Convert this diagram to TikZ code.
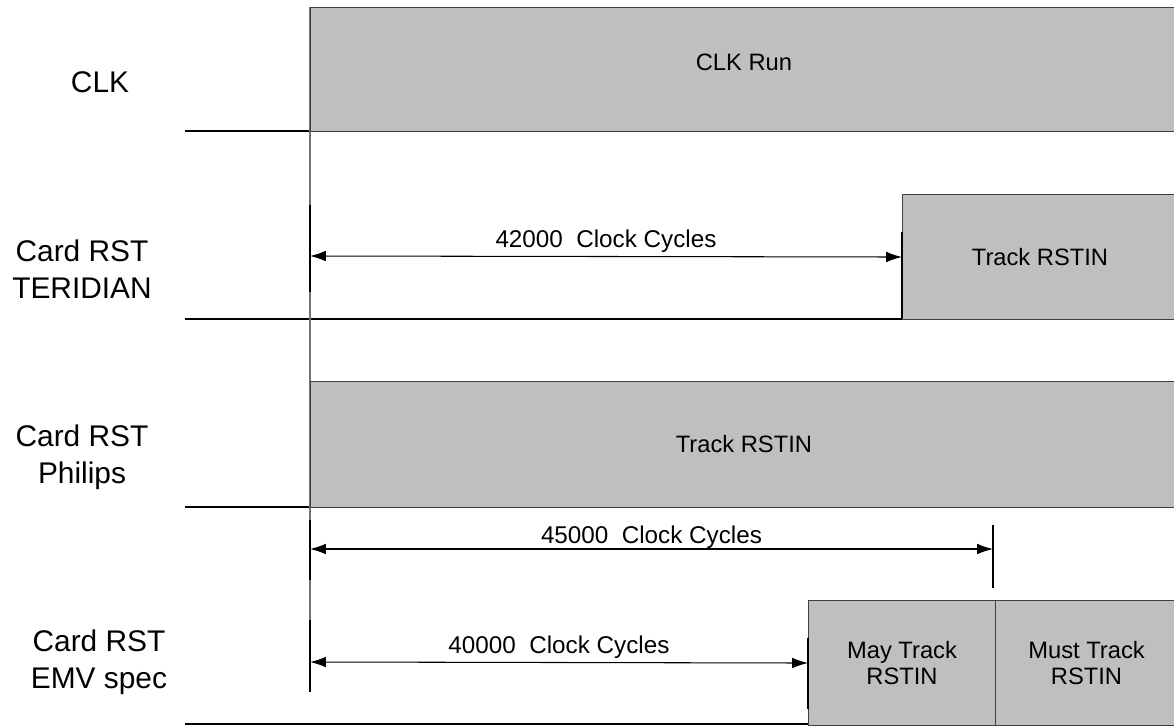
\documentclass[tikz,border=0pt]{standalone}
\usepackage{fontspec}
\setmainfont{Liberation Sans}
\usetikzlibrary{arrows.meta}

\tikzset{
	sig/.style={draw=black!75, fill=black!25, line width=0.6pt, anchor=north west, inner sep=0pt, align=center, font=\fontsize{13.5}{15}\selectfont},
	lane/.style={align=center, font=\fontsize{17}{21}\selectfont},
	dim/.style={{Latex[length=9pt,width=6pt]}-{Latex[length=9pt,width=6pt]}, line width=0.6pt},
	dimtxt/.style={above, inner sep=2pt, font=\fontsize{13.8}{16}\selectfont},
	tick/.style={line width=1.2pt}
}

\begin{document}
\begin{tikzpicture}[x=0.02cm, y=-0.02cm]
	\useasboundingbox (0,0) rectangle (1174,726);
	% lanes
	\draw[black, line width=0.6pt] (185,131) -- (1174,131) (185,319) -- (1174,319) (185,507) -- (1174,507) (185,724) -- (1174,724);
	\draw[black!55, line width=0.8pt] (310,7) -- (310,692);
	\node[lane] (clk) at (100,82) {CLK};
	\node[lane] (teri) at (82,269) {Card RST\\TERIDIAN};
	\node[lane] (phil) at (82,457) {Card RST\\Philips};
	\node[lane] (emv) at (99,662) {Card RST\\EMV spec};
	% signals
	\node[sig, minimum width=17.34cm, minimum height=2.48cm, text depth=0.3cm] (run) at (310,7) {CLK Run};
	\node[sig, minimum width=5.5cm, minimum height=2.5cm] (trk1) at (902,194) {Track RSTIN};
	\node[sig, minimum width=17.34cm, minimum height=2.52cm] (trk2) at (310,381) {Track RSTIN};
	\node[sig, minimum width=3.74cm, minimum height=2.5cm] (may) at (808,600) {May Track\\RSTIN};
	\node[sig, minimum width=3.64cm, minimum height=2.5cm] (must) at (995,600) {Must Track\\RSTIN};
	% timings
	\coordinate (s1) at (310,256);
	\coordinate (s2) at (310,549);
	\coordinate (e2) at (993,549);
	\coordinate (s3) at (310,662);
	\draw[tick] (310,205) -- (310,292) (310,520) -- (310,580) (310,620) -- (310,692);
	\draw[tick] (902,232) -- (902,318) (993,525) -- (993,588) (808,638) -- (808,709);
	\path[dim]
	(s1) edge node[dimtxt]{42000~~Clock Cycles} (trk1.west)
	(s2) edge node[dimtxt, inner sep=0pt]{45000~~Clock Cycles} (e2)
	(s3) edge node[dimtxt]{40000~~Clock Cycles} (may.west);
\end{tikzpicture}
\end{document}
